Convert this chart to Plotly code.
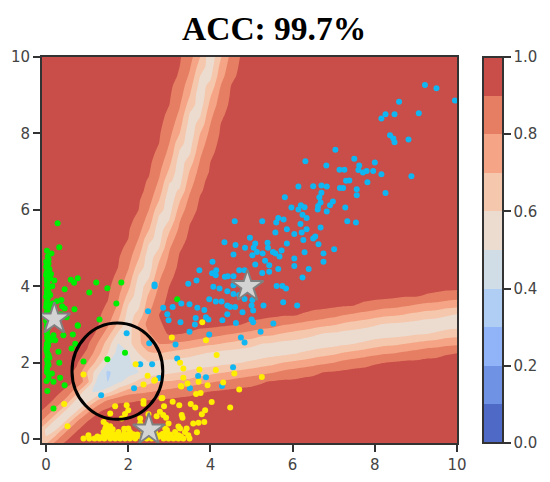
import numpy as np
import plotly.graph_objects as go

# probability surface, in percent, one row per y
grid_x = [i * 0.25 - 0.25 for i in range(42)]
grid_y = [i * 0.25 - 0.25 for i in range(42)]

def row(first, vals):
    return [97] * first + vals + [97] * (42 - first - len(vals))

prob_rows = [
    row(0, [62,79,90,95,96]),
    row(0, [58,61,78,89,95,96]),
    row(0, [76,58,60,78,89,95,96]),
    row(0, [88,76,58,60,78,89,94,96,97,96,96]),
    row(0, [94,87,76,58,59,76,88,92,95,94,94,95,95,95,96,96,96,96]),
    row(0, [96,94,87,76,56,56,72,82,88,89,90,91,92,92,93,93,94,94,95,95,96,96,96]),
    row(0, [97,96,93,87,74,51,49,56,66,75,77,79,81,83,85,87,89,90,91,92,93,93,94,94,95,95,96,96,96]),
    row(0, [97,97,96,94,88,74,46,40,48,54,63,67,70,71,73,74,77,79,81,83,85,87,89,91,92,92,93,93,94,95,95,96,96,96,96]),
    row(0, [97,97,97,93,88,70,54,38,45,47,50,55,56,58,60,62,65,67,69,71,73,75,77,79,82,84,86,88,90,91,92,93,93,94,94,95,95,95,96,96,96,96]),
    row(0, [97,97,97,96,91,80,66,50,46,47,56,59,57,56,55,54,54,55,57,58,60,62,65,67,70,72,74,76,78,80,83,85,87,89,90,91,92,92,93,93,94,94]),
    row(0, [97,97,97,97,95,88,74,60,46,50,60,69,70,68,66,64,61,59,57,56,55,53,54,56,57,59,61,64,66,68,71,73,75,77,79,80,82,84,86,87,89,90]),
    row(0, [97,97,97,97,97,92,80,65,50,56,68,76,80,80,78,76,74,72,70,68,66,64,60,59,57,56,54,53,55,56,58,60,62,65,67,68,70,72,74,75,77,78]),
    row(0, [97,97,97,97,97,95,88,74,58,56,68,79,86,91,90,89,86,84,82,80,78,76,73,72,69,67,65,62,59,58,56,55,53,54,55,56,57,59,60,62,65,66]),
    row(0, [97,97,97,97,97,95,91,82,68,54,71,84,89,92,94,93,93,93,92,91,90,88,86,84,81,79,77,75,73,71,68,66,64,61,59,58,57,56,54,53,54,55]),
    row(0, [97,97,97,97,97,95,92,86,74,56,63,80,90,94,95,96,96,96,95,95,94,93,93,92,91,91,89,87,85,83,80,78,76,74,72,71,69,67,65,64,61,59]),
    row(5, [96,93,89,79,60,58,76,87,93,96,97,97,97,97,97,96,96,96,95,95,94,94,93,93,92,91,90,88,86,84,83,81,79,77,76,74,73]),
    row(6, [94,91,82,67,54,72,84,92,95,97,97,97,97,97,97,97,97,97,97,97,96,96,96,95,95,94,93,93,93,92,91,91,89,88,86,85]),
    row(6, [95,92,85,73,55,65,81,90,94] + [97] * 16 + [96,96,96,96,95,95,94,94,93,93,93]),
    row(6, [96,93,88,77,59,59,78,88,93,96] + [97] * 22 + [96,96,96,96]),
    row(7, [94,90,81,65,55,73,85,92,95]),
    row(7, [95,91,84,71,54,68,82,91,95]),
    row(7, [96,93,87,76,58,60,79,89,93,96]),
    row(8, [94,90,80,63,56,74,86,92,95]),
    row(8, [95,91,84,71,54,68,82,91,95]),
    row(8, [96,93,87,76,58,60,79,89,93,96]),
    row(9, [94,90,80,63,56,74,86,92,95]),
    row(9, [95,91,84,70,53,69,83,91,95]),
    row(9, [96,93,87,75,57,61,79,89,93,96]),
    row(9, [96,93,89,79,61,57,75,87,93,96]),
    row(10, [95,91,82,68,54,71,84,91,95]),
    row(10, [95,92,85,73,55,65,81,90,94]),
    row(10, [96,93,88,77,59,59,78,88,93,96]),
    row(11, [94,90,80,63,56,74,86,92,95]),
    row(11, [95,91,83,70,53,70,83,91,95]),
    row(11, [95,92,86,74,56,63,80,90,94]),
    row(11, [96,93,88,78,59,59,77,88,93,96]),
    row(12, [94,90,81,65,55,73,85,92,95]),
    row(12, [95,91,84,70,53,69,83,91,95]),
    row(12, [95,92,86,74,56,63,80,90,94]),
    row(12, [96,93,89,78,60,58,76,87,93,96]),
    row(13, [94,90,81,65,55,73,85,92,95]),
    row(13, [95,91,84,70,53,69,83,91,95]),
]

blue_x = [9.22,9.50,8.59,9.95,8.26,8.16,8.48,9.07,8.37,8.45,8.48,8.82,7.04,7.50,8.00,6.31,6.82,7.62,7.14,7.26,7.60,7.71,7.80,7.96,8.16,8.89,7.30,7.38,7.82,6.14,6.50,6.70,6.83,7.15,7.23,7.56,7.56,8.26,6.70,6.65,5.81,6.98,6.91,6.68,6.62,6.61,6.20,6.29,5.97,6.14,6.83,7.28,6.24,6.34,5.26,5.65,5.60,5.78,7.33,7.54,6.19,5.86,5.58,6.34,6.22,6.04,6.68,6.55,6.50,6.26,5.39,5.09,5.86,6.63,5.40,5.05,7.01,6.29,6.75,5.73,5.13,5.27,5.52,5.58,5.68,5.02,6.04,5.33,5.43,5.09,6.75,6.04,5.65,6.39,
          4.59,4.34,4.61,4.96,4.84,4.56,4.05,3.73,4.14,4.04,4.13,4.35,4.42,4.56,4.70,4.83,5.26,5.43,6.24,5.61,5.75,5.84,5.77,6.11,5.29,2.64,2.64,3.46,3.66,4.56,4.07,4.22,4.41,4.56,4.70,3.97,4.13,4.27,4.83,5.02,3.29,3.49,2.85,3.08,3.68,3.85,4.41,4.48,4.60,5.00,5.04,2.95,4.41,4.78,3.64,3.89,3.95,2.98,3.27,4.29,3.62,4.62,5.00,5.04,5.53,3.49,3.97,5.22,4.74,4.83,3.15,3.19,
          1.96,2.51,2.29,2.58,2.75,2.14,1.34,3.70,3.89,3.50,4.28,4.55,2.48]
blue_y = [9.27,9.18,8.83,8.86,8.50,8.39,8.50,8.53,7.95,7.87,7.77,7.84,7.57,7.34,7.24,7.27,7.16,7.16,7.05,7.05,7.04,6.98,7.02,7.02,6.93,6.88,6.76,6.77,6.72,6.61,6.62,6.64,6.61,6.57,6.57,6.54,6.38,6.44,6.45,6.33,6.33,6.22,6.12,6.19,6.10,6.01,6.12,6.07,6.06,6.01,5.96,6.06,5.87,5.79,5.70,5.79,5.67,5.75,5.70,5.67,5.63,5.49,5.41,5.49,5.41,5.37,5.54,5.30,5.25,5.21,5.14,5.12,5.12,5.10,5.01,5.01,4.97,4.89,4.86,4.94,4.90,4.86,4.90,4.86,4.78,4.81,4.73,4.67,4.55,4.57,4.64,4.53,4.45,4.45,
          5.70,5.15,5.08,5.27,5.01,4.83,4.64,4.42,4.42,4.34,4.29,4.25,4.26,4.26,4.42,4.42,4.35,4.38,4.23,4.01,4.01,3.94,3.58,3.50,3.50,4.05,4.00,4.07,4.15,4.03,3.99,3.94,3.87,3.80,3.77,3.66,3.60,3.60,3.67,3.64,3.55,3.53,3.44,3.46,3.44,3.38,3.50,3.46,3.46,3.50,3.37,3.27,3.27,3.32,3.17,3.19,3.13,3.11,3.06,3.11,3.00,3.04,3.13,3.06,3.03,2.81,2.74,2.81,2.66,2.53,2.48,2.11,
          2.77,2.51,1.96,1.96,1.60,1.33,1.15,1.65,1.62,1.33,1.39,1.88,3.35]

green_x = [.28,.32,.02,.13,.06,0,.06,0,.03,.12,0,.02,.10,.2,.02,.15,.6,.68,.77,1.22,1.83,.45,1.05,1.49,.02,.1,0,.02,.26,.37,.16,.39,.45,.69,1.71,0,.02,.5,.36,1.3,.77,0,0,.02,
           .02,.03,.18,.42,.65,.77,.11,.22,.02,.71,.62,.3,.02,.06,.02,.91,.32,.06,.02,.14,.34,.06,.18,.45,.03,.18,1.92,1.49,3.19,
           .04,.06,.05,.03,.08,.04,.09,.06,.08,.02,.07,.03,
           .01,.03,.05,.02,.04,.01,.06,.03,.02,.05,.01,.04,.03,.02,.06,.01,.04,.02,.05,.03,.01,.04]
green_y = [5.65,5.02,4.93,4.86,4.70,4.64,4.60,4.51,4.42,4.32,4.29,4.16,4.21,4.15,4.03,4.0,4.17,4.09,4.21,4.10,4.10,3.92,3.84,3.95,3.9,3.77,3.73,3.6,3.61,3.64,3.55,3.48,3.42,3.40,3.55,3.46,3.33,3.19,3.27,3.13,2.98,3.25,3.1,2.96,
           2.77,2.64,2.72,2.72,2.74,2.97,2.59,2.59,2.5,2.5,2.37,2.29,2.37,2.2,2.07,2.03,2.0,1.94,1.81,1.72,1.61,1.59,1.5,1.41,1.26,.8,2.26,2.09,3.66,
           2.9,2.65,2.45,2.25,2.13,2.0,3.0,3.85,4.45,4.55,3.5,3.2,
           4.35,4.1,3.95,3.82,3.68,3.55,3.4,3.05,2.85,2.55,2.32,2.18,1.9,1.75,1.68,1.52,4.78,4.25,3.15,2.68,2.4,1.98]

yellow_x = [.91,1.05,1.18,1.30,1.42,1.56,1.68,1.80,1.92,2.04,2.17,2.33,2.45,2.57,2.69,2.86,2.98,3.10,3.22,3.34,3.49,
            1.03,1.44,1.68,2.0,2.49,2.77,3.22,3.46,1.40,1.56,1.76,2.04,2.37,2.65,2.94,3.14,3.38,1.44,2.0,2.90,3.26,3.42,
            1.40,3.58,2.29,3.71,1.56,3.22,3.67,
            1.68,1.96,2.0,2.37,2.37,2.81,2.87,3.08,3.24,3.52,3.63,2.77,2.49,2.69,2.85,2.92,1.92,1.56,1.84,2.29,3.3,3.32,3.87,3.79,3.85,4.03,4.48,2.98,2.94,.52,.44,
            2.37,2.65,3.28,3.44,3.71,3.65,3.76,3.93,
            3.06,3.89,4.15,3.26,3.34,3.73,4.13,4.58,5.25,3.34,4.31,3.29,4.7,2.63,2.83,3.80,2.18,2.47,.91,
            1.25,1.36,1.5,1.62,1.74,1.86,1.98,2.1,2.23,2.4,2.52,2.62,2.75,2.92,3.04,3.16,3.28,1.48,1.6,1.72,1.9,2.12,2.22,2.58,2.84,3.02,1.5,1.62,1.46,1.9]
yellow_y = [.02,.02,.02,.02,.02,.02,.02,.02,.02,.02,.02,.02,.02,.02,.02,.02,.02,.02,.02,.02,.02,
            .1,.1,.1,.1,.1,.1,.1,.1,.19,.19,.19,.19,.19,.19,.19,.19,.19,.28,.28,.28,.28,.28,
            .45,.41,.41,.43,.34,.33,.18,
            .86,.89,.76,1.0,.93,1.07,.86,.98,.89,.92,.83,.72,.65,.6,.63,.56,.66,.67,.54,.54,.63,.56,.76,.65,.45,.97,.83,.41,.24,.34,.92,
            1.43,1.55,1.39,1.46,1.5,1.18,1.21,1.41,
            2.66,2.59,2.2,2.0,1.85,1.82,1.81,1.72,1.63,1.61,1.48,1.38,1.3,1.53,1.08,3.06,1.96,1.66,1.69,
            .07,.06,.08,.07,.05,.08,.06,.07,.08,.06,.07,.05,.07,.06,.08,.06,.07,.14,.15,.13,.15,.13,.12,.13,.14,.12,.24,.26,.38,.27]

star_x = [0.2, 2.5, 4.9]
star_y = [3.15, 0.25, 4.0]
circle_x = [0.63, 2.84]
circle_y = [0.52, 3.04]

band_colors = ['#4f69c6','#6f92e4','#90b4f7','#b0cdf4','#d0dce6','#ecdcd0','#f5c7ad','#f5a585','#e57e62','#c94d48']
scale = []
for i, c in enumerate(band_colors):
    scale.append([i / 10, c])
    scale.append([(i + 1) / 10, c])

ink = '#333333'
tick_font = dict(family='DejaVu Sans', size=15, color='#444444')

fig = go.Figure()
fig.add_trace(go.Contour(
    x=grid_x, y=grid_y, z=np.array(prob_rows) / 100,
    zmin=0, zmax=1, colorscale=scale,
    contours=dict(start=0, end=1, size=0.1, coloring='fill'),
    line=dict(width=0, smoothing=0.6),
    colorbar=dict(x=1.0627, xanchor='left', xpad=0, y=0.5, yanchor='middle', ypad=0, len=1,
                  thickness=20, thicknessmode='pixels', outlinewidth=2, outlinecolor=ink,
                  tickvals=[0, 0.2, 0.4, 0.6, 0.8, 1], tickformat='.1f', ticks='outside',
                  ticklen=7, tickwidth=2, tickcolor=ink, tickfont=tick_font),
))
for xs, ys, col in [(green_x, green_y, '#00ee00'), (blue_x, blue_y, '#0fb6f2'), (yellow_x, yellow_y, '#ffee00')]:
    fig.add_trace(go.Scatter(x=xs, y=ys, mode='markers', marker=dict(size=6, color=col), showlegend=False))
fig.add_trace(go.Scatter(x=star_x, y=star_y, mode='markers', showlegend=False,
                         marker=dict(symbol='star', size=24, color='#d3d3d3', line=dict(color='#808080', width=2))))

fig.add_shape(type='circle', xref='x', yref='y', x0=circle_x[0], x1=circle_x[1], y0=circle_y[0], y1=circle_y[1],
              line=dict(color='black', width=3))

axis = dict(range=[-0.1, 10], tickvals=[0, 2, 4, 6, 8, 10], showgrid=False, zeroline=False, automargin=False,
            showline=True, mirror=True, linewidth=2, linecolor=ink,
            ticks='outside', ticklen=7, tickwidth=2, tickcolor=ink, tickfont=tick_font)
# the page adds 8px round the figure, so it is drawn that much smaller
fig.update_layout(
    width=542, height=474, autosize=False,
    margin=dict(l=34, r=93, t=49, b=39, autoexpand=False),
    paper_bgcolor='white', plot_bgcolor='white',
    title=dict(text='<b>ACC: 99.7%</b>', x=0.491, xanchor='center', y=0.958, yanchor='middle',
               font=dict(family='Liberation Serif', size=33.5, color='black')),
    xaxis=axis, yaxis=axis, showlegend=False,
)
fig.write_html("out.html")
